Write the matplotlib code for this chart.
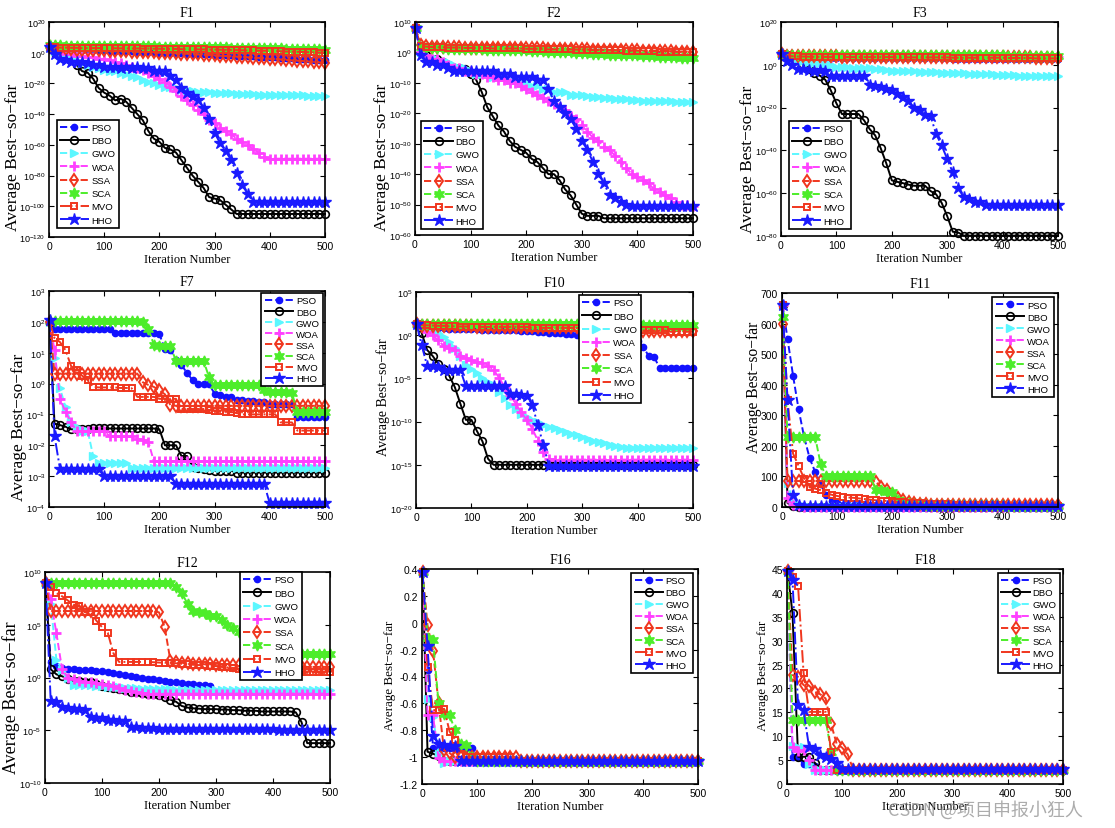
import matplotlib
matplotlib.use('Agg')
import matplotlib.pyplot as plt
from matplotlib import ticker

# ---- data: best-so-far values read at iteration 1, 10, 20, ..., 500 ----
ITERS = [1] + list(range(10, 501, 10))
ALGOS = ['PSO', 'DBO', 'GWO', 'WOA', 'SSA', 'SCA', 'MVO', 'HHO']

# F1
F1_PSO = ([1e4] + [1e3, 5e2, 3e2, 2e2, 1e2, 1e2, 8e1, 6e1, 5e1, 3e1]
          + [2e1, 2e1, 1e1, 1e1, 8e0, 5e0, 4e0, 3e0, 2e0, 1e0]
          + [8e-1, 6e-1, 5e-1, 4e-1, 3e-1, 2e-1, 1.5e-1, 1e-1, 8e-2, 5e-2]
          + [4e-2, 3e-2, 2e-2, 1.5e-2, 1e-2, 7e-3, 5e-3, 3e-3, 2e-3, 1.5e-3]
          + [1e-3, 6e-4, 4e-4, 2e-4, 1e-4, 6e-5, 4e-5, 2e-5, 1.5e-5, 1e-5])
F1_DBO = ([1e4] + [1e0, 1e-2, 1e-3, 1e-5, 1e-8, 1e-12, 1e-13, 1e-17, 1e-23, 1e-26]
          + [1e-28, 1e-31, 1e-30, 1e-32, 1e-36, 1e-40, 1e-44, 1e-51, 1e-56, 1e-58]
          + [1e-62, 1e-63, 1e-65, 1e-70, 1e-75, 1e-80, 1e-84, 1e-88, 1e-94, 1e-95]
          + [1e-96, 1e-99, 1e-102, 1e-105] + [1e-105] * 6
          + [1e-105] * 10)
F1_GWO = ([1e4] + [1e1, 1e0, 1e-1, 1e-3, 1e-5, 1e-7, 1e-8, 1e-9, 1e-10, 1e-11]
          + [1e-12, 1e-12, 1e-13, 1e-14, 1e-15, 1e-16, 1e-18, 1e-19, 1e-20, 1e-21]
          + [1e-22, 1e-22, 1e-23, 1e-24, 3e-25, 1e-25, 5e-26, 3e-26, 2e-26, 1e-26]
          + [7e-27, 5e-27, 3e-27, 2e-27, 1.5e-27, 1e-27, 8e-28, 6e-28, 5e-28, 4e-28]
          + [3e-28, 2.5e-28, 2e-28, 1.8e-28, 1.6e-28, 1.4e-28, 1.2e-28, 1.1e-28, 1e-28, 1e-28])
F1_WOA = ([1e4] + [1e1, 1e0, 1e-1, 1e-1, 1e-2, 1e-2, 1e-3, 1e-3, 1e-4, 1e-4]
          + [1e-5, 1e-6, 1e-7, 1e-8, 1e-9, 1e-10, 1e-11, 1e-13, 1e-15, 1e-17]
          + [1e-19, 1e-22, 1e-25, 1e-28, 1e-31, 1e-34, 1e-37, 1e-40, 1e-44, 1e-46]
          + [1e-49, 1e-51, 1e-53, 1e-56, 1e-58, 1e-60, 1e-63, 1e-65, 1e-68, 1e-69]
          + [1e-69] * 10)
F1_SSA = ([1e4] + [1e3, 5e2, 3e2, 2e2, 1e2, 8e1, 6e1, 5e1, 4e1, 3e1]
          + [2e1, 1.5e1, 1e1, 8e0, 6e0, 5e0, 4e0, 3e0, 2e0, 1e0]
          + [7e-1, 5e-1, 4e-1, 3e-1, 2e-1, 1e-1, 7e-2, 5e-2, 3e-2, 2e-2]
          + [1e-2, 7e-3, 5e-3, 3e-3, 2e-3, 1e-3, 6e-4, 4e-4, 2e-4, 1e-4]
          + [6e-5, 4e-5, 2e-5, 1e-5, 6e-6, 4e-6, 2e-6, 1e-6, 5e-7, 2e-7])
F1_SCA = ([5e4] + [5e4, 5e4, 4e4, 4e4, 4e4, 3e4, 3e4, 3e4, 3e4, 3e4]
          + [2e4, 2e4, 2e4, 2e4, 2e4, 1.5e4, 1.5e4, 1.5e4, 1.5e4, 1e4]
          + [1e4, 1e4, 8e3, 8e3, 8e3, 6e3, 5e3, 5e3, 4e3, 4e3]
          + [3e3, 3e3, 2e3, 2e3, 2e3, 1.5e3, 1.5e3, 1e3, 1e3, 8e2]
          + [7e2, 6e2, 5e2, 4e2, 3e2, 3e2, 2e2, 2e2, 1.5e2, 1e2])
F1_MVO = ([1e4] + [3e3, 2e3, 2e3, 1.5e3, 1.5e3, 1e3, 1e3, 1e3, 1e3, 1e3]
          + [8e2, 8e2, 7e2, 7e2, 6e2, 6e2, 5e2, 5e2, 4e2, 4e2]
          + [3e2, 3e2, 3e2, 2e2, 2e2, 2e2, 1.5e2, 1.5e2, 1e2, 1e2]
          + [8e1, 7e1, 6e1, 5e1, 4e1, 3e1, 3e1, 2e1, 2e1, 1.5e1]
          + [1e1, 8e0, 6e0, 5e0, 4e0, 3e0, 2e0, 1.5e0, 1e0, 1e0])
F1_HHO = ([1e4] + [1e-1, 1e-4, 1e-5, 1e-6, 1e-6, 1e-6, 1e-7, 1e-8, 1e-8, 1e-9]
          + [1e-9, 1e-9, 1e-10, 1e-9, 1e-10, 1e-9, 1e-10, 1e-10, 1e-12, 1e-12]
          + [1e-12, 1e-15, 1e-18, 1e-23, 1e-26, 1e-28, 1e-31, 1e-36, 1e-43, 1e-52]
          + [1e-59, 1e-64, 1e-70, 1e-78, 1e-86, 1e-92, 1e-97, 1e-97, 1e-97, 1e-97]
          + [1e-97] * 10)

# F2
F2_PSO = ([1e8] + [1e2, 5e1, 4e1, 3e1, 3e1, 3e1, 2e1, 2e1, 2e1, 2e1]
          + [2e1, 1.5e1, 1.5e1, 1.5e1, 1e1, 1e1, 1e1, 1e1, 8e0, 8e0]
          + [6e0, 6e0, 5e0, 5e0, 4e0, 4e0, 3e0, 3e0, 2e0, 2e0]
          + [1.5e0, 1.5e0, 1e0, 1e0, 8e-1, 6e-1, 5e-1, 4e-1, 3e-1, 2e-1]
          + [2e-1, 1.5e-1, 1e-1, 1e-1, 8e-2, 6e-2, 5e-2, 4e-2, 3e-2, 3e-2])
F2_DBO = ([1e8] + [1e0, 1e-1, 1e-2, 1e-2, 1e-3, 1e-4, 1e-5, 1e-5, 3e-6, 1e-7]
          + [1e-9, 1e-13, 1e-18, 1e-21, 1e-24, 1e-26, 1e-29, 1e-31, 1e-32, 1e-33]
          + [1e-35, 1e-36, 1e-38, 1e-40, 1e-40, 1e-42, 1e-45, 1e-47, 1e-50, 1e-53]
          + [2e-54, 2e-54, 2e-54] + [3e-55] * 7
          + [3e-55] * 10)
F2_GWO = ([1e8] + [1e0, 1e-1, 1e-2, 1e-2, 1e-3, 1e-3, 1e-4, 1e-5, 1e-5, 1e-6]
          + [1e-7, 1e-7, 1e-7, 1e-8, 1e-8, 1e-8, 1e-9, 1e-9, 1e-10, 1e-10]
          + [1e-11, 1e-11, 1e-12, 1e-12, 1e-13, 1e-13, 1e-13, 1e-14, 1e-14, 1e-14]
          + [5e-15, 3e-15, 2e-15, 1.5e-15, 1e-15, 7e-16, 5e-16, 4e-16, 3e-16, 2e-16]
          + [1.5e-16, 1.2e-16, 1e-16, 1e-16, 9e-17, 8e-17, 7e-17, 6e-17, 5e-17, 5e-17])
F2_WOA = ([1e8] + [1e0, 1e-1, 1e-2, 1e-2, 1e-3, 1e-4, 1e-5, 1e-5, 1e-6, 1e-6]
          + [1e-7, 1e-7, 1e-8, 1e-8, 1e-9, 1e-9, 1e-10, 1e-10, 1e-11, 1e-12]
          + [1e-13, 1e-14, 1e-15, 1e-16, 1e-17, 1e-18, 1e-19, 1e-21, 1e-22, 1e-24]
          + [1e-26, 1e-28, 1e-29, 1e-31, 1e-32, 1e-34, 1e-36, 1e-38, 1e-40, 1e-41]
          + [1e-42, 1e-43, 1e-45, 1e-46, 1e-47, 1e-48, 1e-49, 1e-50, 5e-51, 3e-51])
F2_SSA = ([1e8] + [2e2, 1e2, 8e1, 6e1, 6e1, 5e1, 5e1, 5e1, 4e1, 4e1]
          + [4e1, 4e1, 3e1, 3e1, 3e1, 3e1, 3e1, 2e1, 2e1, 2e1]
          + [2e1, 2e1, 2e1, 1.5e1, 1.5e1, 1.5e1, 1.5e1, 1e1, 1e1, 1e1]
          + [1e1, 8e0, 8e0, 8e0, 6e0, 6e0, 6e0, 5e0, 5e0, 5e0]
          + [4e0, 4e0, 4e0, 3e0, 3e0, 3e0, 2e0, 2e0, 2e0, 2e0])
F2_SCA = ([1e8] + [5e1, 3e1, 2e1, 2e1, 2e1, 1.5e1, 1.5e1, 1.5e1, 1e1, 1e1]
          + [1e1, 1e1, 8e0, 8e0, 8e0, 6e0, 6e0, 6e0, 5e0, 5e0]
          + [4e0, 3e0, 3e0, 2e0, 2e0, 1.5e0, 1e0, 1e0, 8e-1, 6e-1]
          + [5e-1, 4e-1, 3e-1, 3e-1, 2e-1, 2e-1, 1.5e-1, 1.5e-1, 1e-1, 1e-1]
          + [8e-2, 6e-2, 5e-2, 4e-2, 4e-2, 3e-2, 3e-2, 2e-2, 2e-2, 2e-2])
F2_MVO = ([1e8] + [1e2, 8e1, 6e1, 5e1, 5e1, 4e1, 4e1, 4e1, 3e1, 3e1]
          + [3e1, 3e1, 3e1, 2e1, 2e1, 2e1, 2e1, 2e1, 2e1, 1.5e1]
          + [1.5e1, 1.5e1, 1.5e1, 1e1, 1e1, 1e1, 1e1, 1e1, 8e0, 8e0]
          + [8e0, 6e0, 6e0, 6e0, 5e0, 5e0, 5e0, 4e0, 4e0, 4e0]
          + [3e0, 3e0, 3e0, 2e0, 2e0, 2e0, 1.5e0, 1.5e0, 1.5e0, 1e0])
F2_HHO = ([1e8] + [1e-1, 1e-3, 1e-3, 1e-4, 1e-4, 1e-5, 1e-6, 1e-6, 1e-6, 1e-6]
          + [1e-6, 1e-6, 1e-6, 1e-6, 1e-7, 1e-7, 1e-7, 1e-8, 1e-8, 1e-8]
          + [1e-8, 1e-9, 1e-9, 1e-12, 1e-16, 1e-18, 1e-20, 1e-22, 1e-25, 1e-29]
          + [1e-32, 1e-36, 1e-40, 1e-43, 1e-47, 1e-48, 1e-49, 1e-50, 3e-51, 3e-51]
          + [3e-51] * 10)

# F3
F3_PSO = ([1e5] + [1e4, 5e3, 4e3, 3e3, 3e3, 3e3, 2e3, 2e3, 2e3, 2e3]
          + [1.5e3] * 10 + [1e3] * 10 + [8e2] * 10 + [5e2] * 5 + [3e2] * 5)
F3_DBO = ([1e5] + [3e4, 2e4, 1e4, 1e0, 1e-2, 1e-4, 1e-5, 1e-7, 1e-12, 1e-18]
          + [1e-23, 1e-23, 1e-23, 1e-23, 1e-26, 1e-30, 1e-33, 1e-39, 1e-46, 1e-54]
          + [2e-55, 5e-56, 1e-56, 3e-57, 3e-57, 3e-57, 1e-59, 3e-61, 3e-65, 2e-71]
          + [1e-78, 4e-79] + [1.5e-80] * 8
          + [1.5e-80] * 10)
F3_GWO = ([1e5] + [1e4, 1e3, 3e2, 1e2, 3e1, 1e1, 5e0, 2e0, 1e0, 1e-1]
          + [8e-2, 6e-2, 5e-2, 4e-2, 3e-2, 2e-2, 1.5e-2, 1e-2, 5e-3, 2e-3]
          + [1.5e-3, 1.2e-3, 1e-3, 8e-4, 6e-4, 5e-4, 4e-4, 3e-4, 2.5e-4, 2e-4]
          + [1.5e-4, 1.2e-4, 1e-4, 8e-5, 6e-5, 5e-5, 4e-5, 3e-5, 2.5e-5, 2e-5]
          + [1.5e-5, 1.2e-5, 1e-5, 9e-6, 8e-6, 7e-6, 6e-6, 5.5e-6, 5e-6, 5e-6])
F3_WOA = ([1e5] + [2e4, 1e4, 8e3, 8e3, 8e3, 8e3, 6e3, 6e3, 6e3, 6e3]
          + [5e3] * 10 + [5e3] * 10 + [4e3] * 10 + [3e3] * 10)
F3_SSA = ([1e5] + [2e4, 1.5e4, 1.2e4, 1e4, 1e4, 1e4, 8e3, 8e3, 8e3, 8e3]
          + [7e3] * 10 + [6e3] * 10 + [4e3] * 10 + [3e3] * 5 + [2e3] * 5)
F3_SCA = ([1e5] + [5e4] * 10 + [5e4] * 10 + [4e4] * 10 + [3e4] * 10
          + [2e4] * 5 + [1.5e4] * 5)
F3_MVO = ([1e5] + [2e4, 1e4, 8e3, 7e3, 6e3, 5e3, 5e3, 5e3, 4e3, 4e3]
          + [4e3] * 10 + [3e3] * 10 + [2e3] * 10 + [1.5e3] * 5 + [1e3] * 5)
F3_HHO = ([1e5] + [1e2, 5e-1, 1e-2, 1e-2, 5e-3, 1e-3, 3e-3, 1e-3, 5e-6, 5e-6]
          + [5e-6, 5e-6, 5e-6, 5e-6, 5e-6, 3e-10, 1e-10, 3e-11, 3e-12, 1e-12]
          + [3e-14, 1e-15, 2e-17, 1e-20, 1e-21, 5e-24, 1e-24, 5e-33, 2e-38, 1e-44]
          + [5e-51, 2e-58, 1e-62, 2e-63, 1e-64, 1e-64, 3e-66, 3e-66, 3e-66, 3e-66]
          + [3e-66] * 10)

# F7
F7_PSO = ([100] + [58] * 10
          + [58, 45, 45, 45, 45, 45, 45, 45, 45, 40]
          + [13, 12, 6, 4, 2.2, 1.3, 1.0, 0.95, 0.95, 0.47]
          + [0.42, 0.37, 0.36, 0.3, 0.3, 0.28, 0.28, 0.26, 0.25, 0.22]
          + [0.22, 0.22, 0.22, 0.22, 0.08, 0.08, 0.08, 0.08, 0.08, 0.08])
F7_DBO = ([100] + [0.05, 0.045, 0.04, 0.033, 0.033, 0.033, 0.034, 0.035, 0.035, 0.035]
          + [0.035] * 9 + [0.033]
          + [0.01, 0.01, 0.01, 0.0045, 0.0045, 0.002, 0.0018, 0.0017, 0.0016, 0.0015]
          + [0.0015, 0.0015, 0.0015] + [0.0013] * 7
          + [0.0013] * 10)
F7_GWO = ([100] + [6.5, 0.7, 0.17, 0.055, 0.04, 0.03, 0.03, 0.0045, 0.0027, 0.0027]
          + [0.0027, 0.0027, 0.0027, 0.0027] + [0.0019] * 6
          + [0.0019] * 30)
F7_WOA = ([100] + [12, 0.32, 0.12, 0.055, 0.03, 0.028, 0.028, 0.028, 0.028, 0.028]
          + [0.02, 0.02, 0.02, 0.02, 0.02, 0.016, 0.015, 0.013, 0.003, 0.003]
          + [0.003] * 30)
F7_SSA = ([100] + [2.1] * 10
          + [2.1] * 6 + [1.1, 0.9, 0.78, 0.6]
          + [0.45, 0.2] + [0.19] * 8
          + [0.19] * 20)
F7_SCA = ([110] + [110] * 10
          + [110, 110, 110, 110, 110, 110, 100, 60, 18, 16]
          + [16, 16, 5.5, 5.5, 5.5, 5.5, 5.5, 5.5, 1.6, 0.9]
          + [0.9, 0.9, 0.9, 0.9, 0.9, 0.9, 0.9, 0.9, 0.6, 0.55]
          + [0.55, 0.55, 0.55, 0.5, 0.12, 0.12, 0.12, 0.12, 0.12, 0.12])
F7_MVO = ([100] + [30, 22, 12, 3.7, 2.7, 1.8, 1.3, 0.78, 0.75, 0.75]
          + [0.75, 0.75, 0.72, 0.72, 0.7, 0.37, 0.37, 0.37, 0.37, 0.32]
          + [0.32, 0.32, 0.32, 0.15, 0.15, 0.15, 0.15, 0.15, 0.14, 0.13]
          + [0.13, 0.12, 0.12, 0.11, 0.1, 0.1, 0.1, 0.1, 0.1, 0.1]
          + [0.1, 0.055, 0.055, 0.055, 0.03, 0.03, 0.03, 0.03, 0.03, 0.03])
F7_HHO = ([118] + [0.02] + [0.0017] * 8 + [0.001]
          + [0.001] * 10
          + [0.001, 0.001] + [0.00055] * 8
          + [0.00055] * 9 + [0.00013]
          + [0.00013] * 10)

# F10
F10_PSO = ([20] + [8, 7, 6, 6, 6, 5.5, 5.5, 5, 5, 5]
           + [5, 4.5, 4.5, 4, 4, 4, 3.5, 3.5, 3, 3]
           + [3, 2.5, 2.5, 2, 2, 2, 1.5, 1.5, 1.2, 1]
           + [1, 1, 1, 0.8, 0.8, 0.6, 0.6, 0.5, 0.4, 0.2]
           + [0.045, 0.004, 0.003] + [1.4e-4] * 7)
F10_DBO = ([20] + [2, 0.02, 0.004, 5e-4, 1.2e-4, 2e-5, 1e-6, 1.2e-8, 1.6e-10, 1.6e-10]
           + [8e-12, 5e-13, 5e-15] + [1e-15] * 7
           + [1e-15] * 30)
F10_GWO = ([20] + [12, 8, 5, 2, 0.6, 0.17, 0.03, 0.004, 4e-4, 1.2e-4]
           + [4e-5, 1.2e-5, 4e-6, 1.6e-6, 2.5e-7, 5e-8, 8e-9, 3e-9, 8e-10, 3e-10]
           + [1.6e-10, 8e-11, 4e-11, 2.5e-11, 1.6e-11, 1e-11, 6e-12, 4e-12, 2.5e-12, 1.6e-12]
           + [1e-12, 6e-13, 4e-13, 3e-13, 2e-13, 1.5e-13, 1.2e-13, 1e-13, 1e-13, 1e-13]
           + [1e-13] * 10)
F10_WOA = ([20] + [10, 2.5, 1, 0.25, 0.06, 0.03, 0.02, 0.004, 0.0025, 0.0013]
           + [8e-4, 6e-4, 3e-4, 1e-4, 1.2e-5, 1e-6, 1.2e-7, 1.2e-8, 1.2e-9, 1.5e-10]
           + [1.5e-11, 6e-13, 3e-14, 5e-15] + [4e-15] * 6
           + [4e-15] * 20)
F10_SSA = [20] + [12] * 10 + [10] * 10 + [8] * 10 + [5] * 10 + [3] * 10
F10_SCA = [20] + [20] * 10 + [20] * 10 + [20] * 10 + [18] * 10 + [15] * 10
F10_MVO = ([20] + [15, 14, 13, 12, 12, 11, 11, 10, 10, 10]
           + [9] * 10 + [7] * 10 + [5] * 10 + [3.5] * 5 + [2.5] * 5)
F10_HHO = ([20] + [0.08, 3e-4, 3e-4, 2e-4, 1e-4, 1e-4, 1e-4, 1e-4, 1.2e-6, 1.2e-6]
           + [1.2e-6] * 6 + [1.5e-7, 1.5e-7, 1.2e-7, 1e-7]
           + [8e-9, 4e-11, 2e-13] + [8e-16] * 7
           + [8e-16] * 20)

# F11
F11_PSO = ([660] + [550, 430, 320, 230, 160, 115, 75, 40, 20, 12]
           + [8, 6, 5, 5, 5, 4, 4, 4, 4, 3]
           + [3] * 30)
F11_DBO = [660] + [13, 2] + [0] * 8 + [0] * 40
F11_GWO = [660] + [80, 15, 5, 2, 1] + [0.5] * 5 + [0.3] * 40
F11_WOA = [660] + [30, 5, 2, 1, 0.5] + [0.3] * 5 + [0.2] * 40
F11_SSA = ([600] + [85] * 10
           + [85, 85, 85, 85, 85, 85, 82, 65, 55, 40]
           + [30, 22, 15, 12, 10, 9, 8, 7, 6, 6]
           + [5] * 20)
F11_SCA = ([620] + [230, 230, 230, 230, 230, 230, 140, 100, 100, 100]
           + [100, 100, 100, 100, 100, 100, 55, 55, 50, 48]
           + [22, 15, 12, 10, 9, 8, 7, 6, 6, 5]
           + [5] * 10 + [4] * 10)
F11_MVO = ([660] + [350, 175, 135, 93, 65, 60, 55, 47, 40, 36]
           + [33, 31, 30, 28, 26, 24, 22, 21, 20, 18]
           + [16, 15, 14, 13, 12, 11, 10, 10, 9, 9]
           + [8, 8, 7, 7, 6, 6, 6, 5, 5, 5]
           + [4, 4, 4, 4, 3, 3, 3, 3, 3, 3])
F11_HHO = [660] + [350, 38, 8, 4, 3, 2, 2, 2, 2, 2] + [2] * 40

# F12
F12_PSO = ([1e9] + [30, 12, 8, 6, 6, 5.5, 5, 5, 4.5, 4]
           + [3, 2.8, 2, 1.6, 1.4, 1.2, 1, 0.8, 0.7, 0.6]
           + [0.45, 0.4, 0.35, 0.3, 0.25, 0.22, 0.2, 0.18, 0.15])
F12_DBO = ([1e9] + [6, 2, 1.3, 0.8, 0.5, 0.45, 0.4, 0.35, 0.25, 0.15]
           + [0.12, 0.1, 0.08, 0.06, 0.045, 0.04, 0.035, 0.03, 0.025, 0.022]
           + [0.013, 0.008, 0.005, 0.002, 0.0014, 0.0012, 0.0011, 0.001, 0.001, 0.001]
           + [9e-4, 9e-4, 8e-4, 8e-4, 7e-4, 7e-4, 7e-4, 6e-4, 6e-4, 6e-4]
           + [6e-4, 6e-4, 6e-4, 5e-4, 6e-5, 6e-7, 6e-7, 6e-7, 6e-7, 6e-7])
F12_GWO = ([1e9] + [1e7, 50, 5, 1, 0.2, 0.2, 0.2, 0.18, 0.16, 0.15]
           + [0.14, 0.13, 0.12, 0.11, 0.1, 0.1, 0.09, 0.09, 0.08, 0.08]
           + [0.08, 0.08] + [0.07] * 8
           + [0.065] * 20)
F12_WOA = ([1e9] + [2.5e7, 1.6e4, 6, 1, 0.7, 0.5, 0.4, 0.35, 0.3, 0.25]
           + [0.2, 0.15, 0.1, 0.07, 0.05, 0.04, 0.035, 0.03, 0.03, 0.03]
           + [0.03] * 30)
F12_SSA = ([1e9] + [2e6] * 10
           + [2e6] * 9 + [1.5e6]
           + [6e4, 40, 30, 25, 22, 20, 20, 18, 18, 16]
           + [16, 15, 15, 14, 14, 13, 13, 12, 12, 12]
           + [12, 11, 11, 11, 10, 10, 10, 10, 10, 10])
F12_SCA = ([1e9] + [1e9] * 10 + [1e9] * 10
           + [1e9, 1e9, 4e8, 1e8, 1e7, 2e6, 1.5e6, 1.4e6, 7e5, 7e5]
           + [3e5, 1e5, 5e4, 2e4, 1e4, 3e3, 1e3, 5e2, 3e2, 2e2]
           + [1.6e2] * 10)
F12_MVO = ([1e9] + [3.5e8, 1e8, 5e7, 2e7, 8e6, 6e6, 1.5e6, 1.5e6, 2.5e5, 6e4]
           + [1.8e4, 2e2, 30, 30, 30, 30, 30, 30, 28, 26]
           + [25, 24, 22, 20, 18, 16, 15, 14, 13, 12]
           + [10, 9, 8, 7, 6, 6, 5, 5, 4, 4]
           + [4, 4, 3.5, 3.5, 3, 3, 3, 3, 3, 3])
F12_HHO = ([1e9] + [0.006, 0.005, 0.0016, 0.0013, 0.001, 0.001, 8e-4, 1.8e-4, 1.5e-4, 1.3e-4]
           + [1e-4, 9e-5, 8e-5, 7e-5, 2.2e-5, 2e-5, 1.8e-5, 1.6e-5, 1.5e-5, 1.4e-5]
           + [1.3e-5] * 10 + [1.2e-5] * 10 + [1.1e-5] * 10)

# F16
F16_PSO = [0.38] + [-0.35, -0.93] + [-0.935] * 7 + [-1.03] + [-1.03] * 40
F16_DBO = [0.38] + [-0.96, -0.975, -0.99] + [-1.03] * 47
F16_GWO = [0.38] + [-0.57, -0.7, -0.98, -1.04] + [-1.03] * 46
F16_WOA = [0.38] + [-0.69, -0.69, -1.01] + [-1.03] * 47
F16_SSA = ([0.38] + [-0.02, -0.21, -0.6, -0.95, -0.97] + [-1.0] * 5
           + [-1.0] * 7 + [-1.03] * 3 + [-1.03] * 30)
F16_SCA = [0.38] + [-0.11, -0.13, -0.6, -0.68, -0.69, -0.8, -0.9, -0.91, -1.0, -1.03] + [-1.03] * 40
F16_MVO = ([0.38] + [-0.33, -0.65, -0.65, -0.64, -0.81, -0.87, -0.98, -1.0, -1.0, -1.0]
           + [-1.0] * 6 + [-1.03] * 4 + [-1.03] * 30)
F16_HHO = [0.38] + [-0.17, -0.84, -0.9, -0.91, -0.92, -0.92] + [-1.03] * 44

# F18
F18_PSO = [44.5] + [5.6, 5.6, 4.1, 4.1, 3.8] + [3.0] * 45
F18_DBO = [44.5] + [35.7, 5.7, 5.7, 5.7, 4.5] + [3.0] * 45
F18_GWO = [44.5] + [8.0, 7.8, 7.7, 4.2] + [3.0] * 46
F18_WOA = [44.5] + [7.7, 7.0, 7.1, 5.0] + [3.0] * 46
F18_SSA = ([44.5] + [22.8, 22.4, 20.7, 20.6, 19.3, 18.8, 17.9, 12.5, 8.4, 7.6]
           + [6.2] + [3.0] * 39)
F18_SCA = [44.5] + [13.5] * 7 + [6.8] + [3.0] * 42
F18_MVO = [44.5] + [43.4, 41.5, 23.3] + [15.1] * 4 + [6.8] + [3.0] * 42
F18_HHO = [44.5] + [42.7, 16.5, 15.4, 7.7, 7.3, 6.0, 5.7, 5.3, 4.5, 3.2] + [3.2] * 40


def group(prefix):
    g = globals()
    return {a: g[prefix + '_' + a] for a in ALGOS}


# ---- styles (MATLAB-ish) ----
BLUE = '#1212ff'
RED = '#f0361e'
STYLE = {
    'PSO': dict(color=BLUE, ls='--', marker='o', ms=4.5, mfc=BLUE, mec=BLUE),
    'DBO': dict(color='black', ls='-', marker='o', ms=5.5, mfc='none', mec='black', mew=1.2),
    'GWO': dict(color='#5cf7ff', ls='--', marker='>', ms=6, mfc='#5cf7ff', mec='#5cf7ff'),
    'WOA': dict(color='#ff40ff', ls='--', marker='+', ms=6.5, mew=2),
    'SSA': dict(color=RED, ls='--', marker='d', ms=6, mfc='none', mec=RED, mew=1.4),
    'SCA': dict(color='#4ded2a', ls='--', marker=(6, 1, 0), ms=8, mfc='#4ded2a', mec='#4ded2a'),
    'MVO': dict(color=RED, ls='-.', marker='s', ms=5, mfc='none', mec=RED, mew=1.4),
    'HHO': dict(color='#1a1aff', ls='-.', marker='*', ms=9, mfc='#1a1aff', mec='#1a1aff'),
}

plt.rcParams['font.family'] = ['Liberation Sans', 'DejaVu Sans']
plt.rcParams['mathtext.fontset'] = 'custom'
plt.rcParams['mathtext.rm'] = 'Liberation Sans'
plt.rcParams['mathtext.it'] = 'Liberation Sans:italic'
plt.rcParams['mathtext.bf'] = 'Liberation Sans:bold'
SERIF = ['Liberation Serif', 'DejaVu Serif']

W, H = 1115, 829

# title, data prefix, log?, ylim, yticks, pixel box (l, t, r, b),
# legend (loc, anchor, spacing), ylabel (size, centre x px, centre y px)
PANELS = [
    ('F1', 'F1', True, (1e-120, 1e20), [10.0 ** k for k in range(-120, 21, 20)],
     (49, 23, 325, 238), ('lower left', (0.029, 0.042), 0.45), (12.5, 13, 157)),
    ('F2', 'F2', True, (1e-60, 1e10), [10.0 ** k for k in range(-60, 11, 10)],
     (415, 23, 693, 236), ('lower left', (0.022, 0.028), 0.45), (12.5, 382, 157)),
    ('F3', 'F3', True, (1e-80, 1e20), [10.0 ** k for k in range(-80, 21, 20)],
     (781, 23, 1058, 237), ('lower left', (0.029, 0.033), 0.45), (12.5, 748, 159)),
    ('F7', 'F7', True, (1e-4, 1e3), [10.0 ** k for k in range(-4, 4)],
     (49, 292, 325, 508), ('upper right', (0.993, 0.99), 0.22), (12.5, 19, 427)),
    ('F10', 'F10', True, (1e-20, 1e5), [10.0 ** k for k in range(-20, 6, 5)],
     (416, 293, 693, 509), ('upper left', (0.588, 0.986), 0.45), (10, 383, 397)),
    ('F11', 'F11', False, (0, 700), list(range(0, 701, 100)),
     (782, 294, 1058, 508), ('upper right', (0.986, 0.98), 0.32), (11.2, 754, 387)),
    ('F12', 'F12', True, (1e-10, 1e10), [10.0 ** k for k in range(-10, 11, 5)],
     (45, 573, 330, 784), ('upper right', (0.90, 1.0), 0.45), (13, 11, 698)),
    ('F16', 'F16', False, (-1.2, 0.4), [-1.2, -1.0, -0.8, -0.6, -0.4, -0.2, 0.0, 0.2, 0.4],
     (422, 570, 698, 785), ('upper right', (0.982, 0.981), 0.32), (9.4, 390, 676)),
    ('F18', 'F18', False, (0, 45), list(range(0, 46, 5)),
     (787, 570, 1063, 785), ('upper right', (0.989, 0.981), 0.32), (9.4, 763, 676)),
]

fig = plt.figure(figsize=(W / 100, H / 100), dpi=100)
fig.patch.set_facecolor('white')

for title, prefix, logy, ylim, yticks, box, leg, ylab in PANELS:
    l, t, r, b = box
    ax = fig.add_axes([l / W, 1 - b / H, (r - l) / W, (b - t) / H])
    data = group(prefix)
    for name in ALGOS:
        y = data[name]
        x = ITERS[:len(y)]
        ax.plot(x, y, lw=1.4, label=name, clip_on=False, **STYLE[name])

    if logy:
        ax.set_yscale('log')
        ax.yaxis.set_major_locator(ticker.FixedLocator(yticks))
        ax.yaxis.set_major_formatter(ticker.LogFormatterMathtext())
        ax.yaxis.set_minor_locator(ticker.NullLocator())
    else:
        ax.yaxis.set_major_locator(ticker.FixedLocator(yticks))
        ax.yaxis.set_major_formatter(ticker.FuncFormatter(lambda v, p: '%g' % round(v, 6)))
    ax.set_ylim(*ylim)
    ax.set_xlim(0, 500)
    ax.set_xticks([0, 100, 200, 300, 400, 500])

    ax.tick_params(direction='in', top=True, right=True, length=3.5, width=0.8,
                   labelsize=7.5, pad=3)
    if logy:
        ax.tick_params(axis='y', labelsize=6.5, pad=2.5)
    for sp in ax.spines.values():
        sp.set_linewidth(1.2)

    ax.set_title(title, fontsize=10, family=SERIF, pad=4)
    ax.set_xlabel('Iteration Number', fontsize=9, family=SERIF, labelpad=1)

    ysize, ycx, ycy = ylab
    ax.set_ylabel('Average Best\u2212so\u2212far', fontsize=ysize, family=SERIF, va='center')
    ax.yaxis.set_label_coords((ycx - l) / (r - l), (b - ycy) / (b - t))

    loc, anchor, spacing = leg
    lg = ax.legend(loc=loc, bbox_to_anchor=anchor, fontsize=6.8, numpoints=1,
                   handlelength=3.0, handletextpad=0.3, labelspacing=spacing,
                   borderpad=0.35, borderaxespad=0, fancybox=False,
                   framealpha=1, edgecolor='black')
    lg.get_frame().set_linewidth(1.2)

fig.text(0.796, 0.023, 'CSDN @项目申报小狂人', fontsize=13, color='#909090', alpha=0.75,
         va='center', family=['Noto Sans CJK SC', 'DejaVu Sans'])

fig.savefig('out.png', dpi=100, facecolor='white')
